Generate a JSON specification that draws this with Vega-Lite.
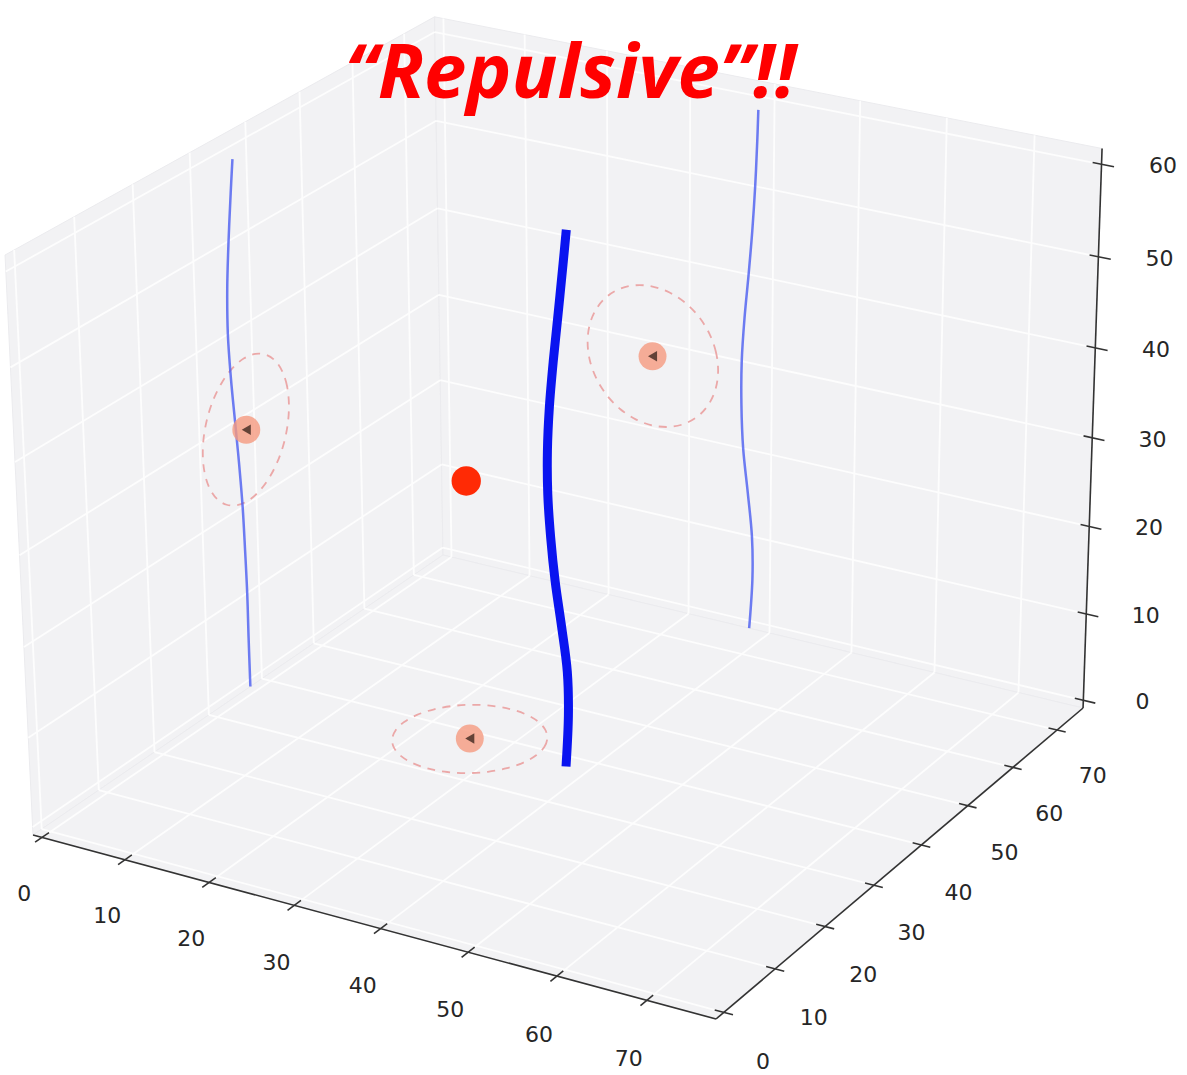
{
  "$schema": "https://vega.github.io/schema/vega-lite/v6.json",
  "width": 1187,
  "height": 1075,
  "autosize": {"type": "none"},
  "padding": 0,
  "background": "white",
  "config": {"view": {"stroke": null}},
  "title": {"text": "“Repulsive”!!", "font": "Open Sans", "fontSize": 76, "fontStyle": "italic", "fontWeight": "bold", "color": "#ff0000", "anchor": "middle", "orient": "top", "dx": -23, "dy": 81, "offset": -93, "baseline": "alphabetic"},
  "data": {"values": [
    {"g":"pane","id":"left","i":0,"x":-1.1,"y":-1.5,"z":-0.9},
    {"g":"pane","id":"left","i":1,"x":-1.1,"y":76,"z":-0.9},
    {"g":"pane","id":"left","i":2,"x":-1.1,"y":76,"z":61.7},
    {"g":"pane","id":"left","i":3,"x":-1.1,"y":-1.5,"z":61.7},
    {"g":"pane","id":"back","i":0,"x":-1.1,"y":76,"z":-0.9},
    {"g":"pane","id":"back","i":1,"x":77.6,"y":76,"z":-0.9},
    {"g":"pane","id":"back","i":2,"x":77.6,"y":76,"z":61.7},
    {"g":"pane","id":"back","i":3,"x":-1.1,"y":76,"z":61.7},
    {"g":"pane","id":"floor","i":0,"x":-1.1,"y":-1.5,"z":-0.9},
    {"g":"pane","id":"floor","i":1,"x":77.6,"y":-1.5,"z":-0.9},
    {"g":"pane","id":"floor","i":2,"x":77.6,"y":76,"z":-0.9},
    {"g":"pane","id":"floor","i":3,"x":-1.1,"y":76,"z":-0.9},

    {"g":"grid","x":0,"y":-1.5,"z":-0.9,"x2":0,"y2":76,"z2":-0.9},
    {"g":"grid","x":10,"y":-1.5,"z":-0.9,"x2":10,"y2":76,"z2":-0.9},
    {"g":"grid","x":20,"y":-1.5,"z":-0.9,"x2":20,"y2":76,"z2":-0.9},
    {"g":"grid","x":30,"y":-1.5,"z":-0.9,"x2":30,"y2":76,"z2":-0.9},
    {"g":"grid","x":40,"y":-1.5,"z":-0.9,"x2":40,"y2":76,"z2":-0.9},
    {"g":"grid","x":50,"y":-1.5,"z":-0.9,"x2":50,"y2":76,"z2":-0.9},
    {"g":"grid","x":60,"y":-1.5,"z":-0.9,"x2":60,"y2":76,"z2":-0.9},
    {"g":"grid","x":70,"y":-1.5,"z":-0.9,"x2":70,"y2":76,"z2":-0.9},
    {"g":"grid","x":-1.1,"y":0,"z":-0.9,"x2":77.6,"y2":0,"z2":-0.9},
    {"g":"grid","x":-1.1,"y":10,"z":-0.9,"x2":77.6,"y2":10,"z2":-0.9},
    {"g":"grid","x":-1.1,"y":20,"z":-0.9,"x2":77.6,"y2":20,"z2":-0.9},
    {"g":"grid","x":-1.1,"y":30,"z":-0.9,"x2":77.6,"y2":30,"z2":-0.9},
    {"g":"grid","x":-1.1,"y":40,"z":-0.9,"x2":77.6,"y2":40,"z2":-0.9},
    {"g":"grid","x":-1.1,"y":50,"z":-0.9,"x2":77.6,"y2":50,"z2":-0.9},
    {"g":"grid","x":-1.1,"y":60,"z":-0.9,"x2":77.6,"y2":60,"z2":-0.9},
    {"g":"grid","x":-1.1,"y":70,"z":-0.9,"x2":77.6,"y2":70,"z2":-0.9},
    {"g":"grid","x":-1.1,"y":0,"z":-0.9,"x2":-1.1,"y2":0,"z2":61.7},
    {"g":"grid","x":-1.1,"y":10,"z":-0.9,"x2":-1.1,"y2":10,"z2":61.7},
    {"g":"grid","x":-1.1,"y":20,"z":-0.9,"x2":-1.1,"y2":20,"z2":61.7},
    {"g":"grid","x":-1.1,"y":30,"z":-0.9,"x2":-1.1,"y2":30,"z2":61.7},
    {"g":"grid","x":-1.1,"y":40,"z":-0.9,"x2":-1.1,"y2":40,"z2":61.7},
    {"g":"grid","x":-1.1,"y":50,"z":-0.9,"x2":-1.1,"y2":50,"z2":61.7},
    {"g":"grid","x":-1.1,"y":60,"z":-0.9,"x2":-1.1,"y2":60,"z2":61.7},
    {"g":"grid","x":-1.1,"y":70,"z":-0.9,"x2":-1.1,"y2":70,"z2":61.7},
    {"g":"grid","x":-1.1,"y":-1.5,"z":0,"x2":-1.1,"y2":76,"z2":0},
    {"g":"grid","x":-1.1,"y":-1.5,"z":10,"x2":-1.1,"y2":76,"z2":10},
    {"g":"grid","x":-1.1,"y":-1.5,"z":20,"x2":-1.1,"y2":76,"z2":20},
    {"g":"grid","x":-1.1,"y":-1.5,"z":30,"x2":-1.1,"y2":76,"z2":30},
    {"g":"grid","x":-1.1,"y":-1.5,"z":40,"x2":-1.1,"y2":76,"z2":40},
    {"g":"grid","x":-1.1,"y":-1.5,"z":50,"x2":-1.1,"y2":76,"z2":50},
    {"g":"grid","x":-1.1,"y":-1.5,"z":60,"x2":-1.1,"y2":76,"z2":60},
    {"g":"grid","x":0,"y":76,"z":-0.9,"x2":0,"y2":76,"z2":61.7},
    {"g":"grid","x":10,"y":76,"z":-0.9,"x2":10,"y2":76,"z2":61.7},
    {"g":"grid","x":20,"y":76,"z":-0.9,"x2":20,"y2":76,"z2":61.7},
    {"g":"grid","x":30,"y":76,"z":-0.9,"x2":30,"y2":76,"z2":61.7},
    {"g":"grid","x":40,"y":76,"z":-0.9,"x2":40,"y2":76,"z2":61.7},
    {"g":"grid","x":50,"y":76,"z":-0.9,"x2":50,"y2":76,"z2":61.7},
    {"g":"grid","x":60,"y":76,"z":-0.9,"x2":60,"y2":76,"z2":61.7},
    {"g":"grid","x":70,"y":76,"z":-0.9,"x2":70,"y2":76,"z2":61.7},
    {"g":"grid","x":-1.1,"y":76,"z":0,"x2":77.6,"y2":76,"z2":0},
    {"g":"grid","x":-1.1,"y":76,"z":10,"x2":77.6,"y2":76,"z2":10},
    {"g":"grid","x":-1.1,"y":76,"z":20,"x2":77.6,"y2":76,"z2":20},
    {"g":"grid","x":-1.1,"y":76,"z":30,"x2":77.6,"y2":76,"z2":30},
    {"g":"grid","x":-1.1,"y":76,"z":40,"x2":77.6,"y2":76,"z2":40},
    {"g":"grid","x":-1.1,"y":76,"z":50,"x2":77.6,"y2":76,"z2":50},
    {"g":"grid","x":-1.1,"y":76,"z":60,"x2":77.6,"y2":76,"z2":60},

    {"g":"axis","x":-1.1,"y":-1.5,"z":-0.9,"x2":77.6,"y2":-1.5,"z2":-0.9},
    {"g":"axis","x":77.6,"y":-1.5,"z":-0.9,"x2":77.6,"y2":76,"z2":-0.9},
    {"g":"axis","x":77.6,"y":76,"z":-0.9,"x2":77.6,"y2":76,"z2":61.7},

    {"g":"tick","x":0,"y":-0.3,"z":-0.9,"x2":0,"y2":-2.7,"z2":-0.9},
    {"g":"tick","x":10,"y":-0.3,"z":-0.9,"x2":10,"y2":-2.7,"z2":-0.9},
    {"g":"tick","x":20,"y":-0.3,"z":-0.9,"x2":20,"y2":-2.7,"z2":-0.9},
    {"g":"tick","x":30,"y":-0.3,"z":-0.9,"x2":30,"y2":-2.7,"z2":-0.9},
    {"g":"tick","x":40,"y":-0.3,"z":-0.9,"x2":40,"y2":-2.7,"z2":-0.9},
    {"g":"tick","x":50,"y":-0.3,"z":-0.9,"x2":50,"y2":-2.7,"z2":-0.9},
    {"g":"tick","x":60,"y":-0.3,"z":-0.9,"x2":60,"y2":-2.7,"z2":-0.9},
    {"g":"tick","x":70,"y":-0.3,"z":-0.9,"x2":70,"y2":-2.7,"z2":-0.9},
    {"g":"tick","x":76.6,"y":0,"z":-0.9,"x2":78.6,"y2":0,"z2":-0.9},
    {"g":"tick","x":76.6,"y":10,"z":-0.9,"x2":78.6,"y2":10,"z2":-0.9},
    {"g":"tick","x":76.6,"y":20,"z":-0.9,"x2":78.6,"y2":20,"z2":-0.9},
    {"g":"tick","x":76.6,"y":30,"z":-0.9,"x2":78.6,"y2":30,"z2":-0.9},
    {"g":"tick","x":76.6,"y":40,"z":-0.9,"x2":78.6,"y2":40,"z2":-0.9},
    {"g":"tick","x":76.6,"y":50,"z":-0.9,"x2":78.6,"y2":50,"z2":-0.9},
    {"g":"tick","x":76.6,"y":60,"z":-0.9,"x2":78.6,"y2":60,"z2":-0.9},
    {"g":"tick","x":76.6,"y":70,"z":-0.9,"x2":78.6,"y2":70,"z2":-0.9},
    {"g":"tick","x":76.6,"y":76,"z":0,"x2":79.0,"y2":76,"z2":0},
    {"g":"tick","x":76.6,"y":76,"z":10,"x2":79.0,"y2":76,"z2":10},
    {"g":"tick","x":76.6,"y":76,"z":20,"x2":79.0,"y2":76,"z2":20},
    {"g":"tick","x":76.6,"y":76,"z":30,"x2":79.0,"y2":76,"z2":30},
    {"g":"tick","x":76.6,"y":76,"z":40,"x2":79.0,"y2":76,"z2":40},
    {"g":"tick","x":76.6,"y":76,"z":50,"x2":79.0,"y2":76,"z2":50},
    {"g":"tick","x":76.6,"y":76,"z":60,"x2":79.0,"y2":76,"z2":60},

    {"g":"lab","label":"0","x":0,"y":-4.9,"z":-5.7},
    {"g":"lab","label":"10","x":10,"y":-4.9,"z":-5.7},
    {"g":"lab","label":"20","x":20,"y":-4.9,"z":-5.7},
    {"g":"lab","label":"30","x":30,"y":-4.9,"z":-5.7},
    {"g":"lab","label":"40","x":40,"y":-4.9,"z":-5.7},
    {"g":"lab","label":"50","x":50,"y":-4.9,"z":-5.7},
    {"g":"lab","label":"60","x":60,"y":-4.9,"z":-5.7},
    {"g":"lab","label":"70","x":70,"y":-4.9,"z":-5.7},
    {"g":"lab","label":"0","x":81.9,"y":0,"z":-5.2},
    {"g":"lab","label":"10","x":81.9,"y":10,"z":-5.2},
    {"g":"lab","label":"20","x":81.9,"y":20,"z":-5.2},
    {"g":"lab","label":"30","x":81.9,"y":30,"z":-5.2},
    {"g":"lab","label":"40","x":81.9,"y":40,"z":-5.2},
    {"g":"lab","label":"50","x":81.9,"y":50,"z":-5.2},
    {"g":"lab","label":"60","x":81.9,"y":60,"z":-5.2},
    {"g":"lab","label":"70","x":81.9,"y":70,"z":-5.2},
    {"g":"lab","label":"0","x":83.2,"y":78.6,"z":0},
    {"g":"lab","label":"10","x":83.2,"y":78.6,"z":10},
    {"g":"lab","label":"20","x":83.2,"y":78.6,"z":20},
    {"g":"lab","label":"30","x":83.2,"y":78.6,"z":30},
    {"g":"lab","label":"40","x":83.2,"y":78.6,"z":40},
    {"g":"lab","label":"50","x":83.2,"y":78.6,"z":50},
    {"g":"lab","label":"60","x":83.2,"y":78.6,"z":60},

    {"g":"ring","id":"F","i":0,"x":33.5,"y":38.5,"z":-0.9},
    {"g":"ring","id":"F","i":1,"x":33.23,"y":40.57,"z":-0.9},
    {"g":"ring","id":"F","i":2,"x":32.43,"y":42.5,"z":-0.9},
    {"g":"ring","id":"F","i":3,"x":31.16,"y":44.16,"z":-0.9},
    {"g":"ring","id":"F","i":4,"x":29.5,"y":45.43,"z":-0.9},
    {"g":"ring","id":"F","i":5,"x":27.57,"y":46.23,"z":-0.9},
    {"g":"ring","id":"F","i":6,"x":25.5,"y":46.5,"z":-0.9},
    {"g":"ring","id":"F","i":7,"x":23.43,"y":46.23,"z":-0.9},
    {"g":"ring","id":"F","i":8,"x":21.5,"y":45.43,"z":-0.9},
    {"g":"ring","id":"F","i":9,"x":19.84,"y":44.16,"z":-0.9},
    {"g":"ring","id":"F","i":10,"x":18.57,"y":42.5,"z":-0.9},
    {"g":"ring","id":"F","i":11,"x":17.77,"y":40.57,"z":-0.9},
    {"g":"ring","id":"F","i":12,"x":17.5,"y":38.5,"z":-0.9},
    {"g":"ring","id":"F","i":13,"x":17.77,"y":36.43,"z":-0.9},
    {"g":"ring","id":"F","i":14,"x":18.57,"y":34.5,"z":-0.9},
    {"g":"ring","id":"F","i":15,"x":19.84,"y":32.84,"z":-0.9},
    {"g":"ring","id":"F","i":16,"x":21.5,"y":31.57,"z":-0.9},
    {"g":"ring","id":"F","i":17,"x":23.43,"y":30.77,"z":-0.9},
    {"g":"ring","id":"F","i":18,"x":25.5,"y":30.5,"z":-0.9},
    {"g":"ring","id":"F","i":19,"x":27.57,"y":30.77,"z":-0.9},
    {"g":"ring","id":"F","i":20,"x":29.5,"y":31.57,"z":-0.9},
    {"g":"ring","id":"F","i":21,"x":31.16,"y":32.84,"z":-0.9},
    {"g":"ring","id":"F","i":22,"x":32.43,"y":34.5,"z":-0.9},
    {"g":"ring","id":"F","i":23,"x":33.23,"y":36.43,"z":-0.9},

    {"g":"ring","id":"L","i":0,"x":-1.1,"y":46.5,"z":28.3},
    {"g":"ring","id":"L","i":1,"x":-1.1,"y":46.23,"z":30.37},
    {"g":"ring","id":"L","i":2,"x":-1.1,"y":45.43,"z":32.3},
    {"g":"ring","id":"L","i":3,"x":-1.1,"y":44.16,"z":33.96},
    {"g":"ring","id":"L","i":4,"x":-1.1,"y":42.5,"z":35.23},
    {"g":"ring","id":"L","i":5,"x":-1.1,"y":40.57,"z":36.03},
    {"g":"ring","id":"L","i":6,"x":-1.1,"y":38.5,"z":36.3},
    {"g":"ring","id":"L","i":7,"x":-1.1,"y":36.43,"z":36.03},
    {"g":"ring","id":"L","i":8,"x":-1.1,"y":34.5,"z":35.23},
    {"g":"ring","id":"L","i":9,"x":-1.1,"y":32.84,"z":33.96},
    {"g":"ring","id":"L","i":10,"x":-1.1,"y":31.57,"z":32.3},
    {"g":"ring","id":"L","i":11,"x":-1.1,"y":30.77,"z":30.37},
    {"g":"ring","id":"L","i":12,"x":-1.1,"y":30.5,"z":28.3},
    {"g":"ring","id":"L","i":13,"x":-1.1,"y":30.77,"z":26.23},
    {"g":"ring","id":"L","i":14,"x":-1.1,"y":31.57,"z":24.3},
    {"g":"ring","id":"L","i":15,"x":-1.1,"y":32.84,"z":22.64},
    {"g":"ring","id":"L","i":16,"x":-1.1,"y":34.5,"z":21.37},
    {"g":"ring","id":"L","i":17,"x":-1.1,"y":36.43,"z":20.57},
    {"g":"ring","id":"L","i":18,"x":-1.1,"y":38.5,"z":20.3},
    {"g":"ring","id":"L","i":19,"x":-1.1,"y":40.57,"z":20.57},
    {"g":"ring","id":"L","i":20,"x":-1.1,"y":42.5,"z":21.37},
    {"g":"ring","id":"L","i":21,"x":-1.1,"y":44.16,"z":22.64},
    {"g":"ring","id":"L","i":22,"x":-1.1,"y":45.43,"z":24.3},
    {"g":"ring","id":"L","i":23,"x":-1.1,"y":46.23,"z":26.23},

    {"g":"ring","id":"B","i":0,"x":33.5,"y":76,"z":28.3},
    {"g":"ring","id":"B","i":1,"x":33.23,"y":76,"z":30.37},
    {"g":"ring","id":"B","i":2,"x":32.43,"y":76,"z":32.3},
    {"g":"ring","id":"B","i":3,"x":31.16,"y":76,"z":33.96},
    {"g":"ring","id":"B","i":4,"x":29.5,"y":76,"z":35.23},
    {"g":"ring","id":"B","i":5,"x":27.57,"y":76,"z":36.03},
    {"g":"ring","id":"B","i":6,"x":25.5,"y":76,"z":36.3},
    {"g":"ring","id":"B","i":7,"x":23.43,"y":76,"z":36.03},
    {"g":"ring","id":"B","i":8,"x":21.5,"y":76,"z":35.23},
    {"g":"ring","id":"B","i":9,"x":19.84,"y":76,"z":33.96},
    {"g":"ring","id":"B","i":10,"x":18.57,"y":76,"z":32.3},
    {"g":"ring","id":"B","i":11,"x":17.77,"y":76,"z":30.37},
    {"g":"ring","id":"B","i":12,"x":17.5,"y":76,"z":28.3},
    {"g":"ring","id":"B","i":13,"x":17.77,"y":76,"z":26.23},
    {"g":"ring","id":"B","i":14,"x":18.57,"y":76,"z":24.3},
    {"g":"ring","id":"B","i":15,"x":19.84,"y":76,"z":22.64},
    {"g":"ring","id":"B","i":16,"x":21.5,"y":76,"z":21.37},
    {"g":"ring","id":"B","i":17,"x":23.43,"y":76,"z":20.57},
    {"g":"ring","id":"B","i":18,"x":25.5,"y":76,"z":20.3},
    {"g":"ring","id":"B","i":19,"x":27.57,"y":76,"z":20.57},
    {"g":"ring","id":"B","i":20,"x":29.5,"y":76,"z":21.37},
    {"g":"ring","id":"B","i":21,"x":31.16,"y":76,"z":22.64},
    {"g":"ring","id":"B","i":22,"x":32.43,"y":76,"z":24.3},
    {"g":"ring","id":"B","i":23,"x":33.23,"y":76,"z":26.23},

    {"g":"traj","i":0,"x":37.5,"y":37.8,"z":-0.9},
    {"g":"traj","i":1,"x":37.85,"y":37.75,"z":5},
    {"g":"traj","i":2,"x":37.75,"y":37.75,"z":10},
    {"g":"traj","i":3,"x":37.2,"y":37.6,"z":15},
    {"g":"traj","i":4,"x":36.6,"y":37.4,"z":20},
    {"g":"traj","i":5,"x":36.35,"y":37.0,"z":25},
    {"g":"traj","i":6,"x":36.35,"y":36.5,"z":30},
    {"g":"traj","i":7,"x":36.65,"y":36.0,"z":35},
    {"g":"traj","i":8,"x":37.1,"y":35.7,"z":40},
    {"g":"traj","i":9,"x":37.5,"y":35.85,"z":45},
    {"g":"traj","i":10,"x":37.8,"y":36.35,"z":50},
    {"g":"traj","i":11,"x":38.0,"y":37.0,"z":55},
    {"g":"traj","i":12,"x":38.1,"y":37.5,"z":58.5},

    {"g":"agent","x":25.5,"y":38.5,"z":28.3}
  ]},
  "transform": [
    {"calculate": "(datum.x+1.1)/78.7", "as": "u"},
    {"calculate": "(datum.y+1.5)/77.5", "as": "v"},
    {"calculate": "(datum.z+0.9)/62.6", "as": "w"},
    {"calculate": "1-0.052*datum.u+0.0969*datum.v-0.0436*datum.w", "as": "den"},
    {"calculate": "(33+645.8*datum.u+452.9*datum.v-28.2*datum.w)/datum.den", "as": "sx"},
    {"calculate": "(835+131*datum.u-226.2*datum.v-591.1*datum.w)/datum.den", "as": "sy"},
    {"calculate": "(datum.x2+1.1)/78.7", "as": "u2"},
    {"calculate": "(datum.y2+1.5)/77.5", "as": "v2"},
    {"calculate": "(datum.z2+0.9)/62.6", "as": "w2"},
    {"calculate": "1-0.052*datum.u2+0.0969*datum.v2-0.0436*datum.w2", "as": "den2"},
    {"calculate": "(33+645.8*datum.u2+452.9*datum.v2-28.2*datum.w2)/datum.den2", "as": "sx2"},
    {"calculate": "(835+131*datum.u2-226.2*datum.v2-591.1*datum.w2)/datum.den2", "as": "sy2"},
    {"calculate": "(33+452.9*datum.v-28.2*datum.w)/(1+0.0969*datum.v-0.0436*datum.w)", "as": "sxL"},
    {"calculate": "(835-226.2*datum.v-591.1*datum.w)/(1+0.0969*datum.v-0.0436*datum.w)", "as": "syL"},
    {"calculate": "(485.9+645.8*datum.u-28.2*datum.w)/(1.0969-0.052*datum.u-0.0436*datum.w)", "as": "sxB"},
    {"calculate": "(608.8+131*datum.u-591.1*datum.w)/(1.0969-0.052*datum.u-0.0436*datum.w)", "as": "syB"},
    {"calculate": "(33+645.8*datum.u+452.9*datum.v)/(1-0.052*datum.u+0.0969*datum.v)", "as": "sxF"},
    {"calculate": "(835+131*datum.u-226.2*datum.v)/(1-0.052*datum.u+0.0969*datum.v)", "as": "syF"}
  ],
  "layer": [
    {
      "transform": [{"filter": "datum.g == 'pane'"}],
      "mark": {"type": "line", "interpolate": "linear-closed", "fill": "#f2f2f4", "stroke": "#ebebee", "strokeWidth": 1},
      "encoding": {
        "x": {"field": "sx", "type": "quantitative", "scale": {"domain": [0, 1187], "nice": false, "zero": false}, "axis": null},
        "y": {"field": "sy", "type": "quantitative", "scale": {"domain": [0, 1075], "nice": false, "zero": false, "reverse": true}, "axis": null},
        "detail": {"field": "id"},
        "order": {"field": "i", "type": "quantitative"}
      }
    },
    {
      "transform": [{"filter": "datum.g == 'grid'"}],
      "mark": {"type": "rule", "color": "#fdfdfd", "strokeWidth": 1.8},
      "encoding": {
        "x": {"field": "sx", "type": "quantitative", "axis": null},
        "y": {"field": "sy", "type": "quantitative", "axis": null},
        "x2": {"field": "sx2"},
        "y2": {"field": "sy2"}
      }
    },
    {
      "transform": [{"filter": "datum.g == 'axis' || datum.g == 'tick'"}],
      "mark": {"type": "rule", "color": "#333333", "strokeWidth": 1.6},
      "encoding": {
        "x": {"field": "sx", "type": "quantitative", "axis": null},
        "y": {"field": "sy", "type": "quantitative", "axis": null},
        "x2": {"field": "sx2"},
        "y2": {"field": "sy2"}
      }
    },
    {
      "transform": [{"filter": "datum.g == 'lab'"}],
      "mark": {"type": "text", "font": "DejaVu Sans", "fontSize": 22, "color": "#262626", "align": "center", "baseline": "middle"},
      "encoding": {
        "x": {"field": "sx", "type": "quantitative", "axis": null},
        "y": {"field": "sy", "type": "quantitative", "axis": null},
        "text": {"field": "label"}
      }
    },
    {
      "transform": [{"filter": "datum.g == 'ring'"}],
      "mark": {"type": "line", "interpolate": "cardinal-closed", "color": "#eba8a8", "strokeWidth": 1.8, "strokeDash": [8, 7]},
      "encoding": {
        "x": {"field": "sx", "type": "quantitative", "axis": null},
        "y": {"field": "sy", "type": "quantitative", "axis": null},
        "detail": {"field": "id"},
        "order": {"field": "i", "type": "quantitative"}
      }
    },
    {
      "transform": [{"filter": "datum.g == 'traj'"}],
      "mark": {"type": "line", "interpolate": "cardinal", "color": "#4a5cf0", "strokeWidth": 2.5, "opacity": 0.8},
      "encoding": {
        "x": {"field": "sxL", "type": "quantitative", "axis": null},
        "y": {"field": "syL", "type": "quantitative", "axis": null},
        "order": {"field": "i", "type": "quantitative"}
      }
    },
    {
      "transform": [{"filter": "datum.g == 'traj'"}],
      "mark": {"type": "line", "interpolate": "cardinal", "color": "#4a5cf0", "strokeWidth": 2.5, "opacity": 0.8},
      "encoding": {
        "x": {"field": "sxB", "type": "quantitative", "axis": null},
        "y": {"field": "syB", "type": "quantitative", "axis": null},
        "order": {"field": "i", "type": "quantitative"}
      }
    },
    {
      "transform": [{"filter": "datum.g == 'agent'"}],
      "mark": {"type": "point", "shape": "circle", "filled": true, "color": "#f59a80", "opacity": 0.8, "size": 780},
      "encoding": {
        "x": {"field": "sxL", "type": "quantitative", "axis": null},
        "y": {"field": "syL", "type": "quantitative", "axis": null}
      }
    },
    {
      "transform": [{"filter": "datum.g == 'agent'"}],
      "mark": {"type": "point", "shape": "circle", "filled": true, "color": "#f59a80", "opacity": 0.8, "size": 780},
      "encoding": {
        "x": {"field": "sxB", "type": "quantitative", "axis": null},
        "y": {"field": "syB", "type": "quantitative", "axis": null}
      }
    },
    {
      "transform": [{"filter": "datum.g == 'agent'"}],
      "mark": {"type": "point", "shape": "circle", "filled": true, "color": "#f59a80", "opacity": 0.8, "size": 780},
      "encoding": {
        "x": {"field": "sxF", "type": "quantitative", "axis": null},
        "y": {"field": "syF", "type": "quantitative", "axis": null}
      }
    },
    {
      "transform": [{"filter": "datum.g == 'agent'"}],
      "mark": {"type": "point", "shape": "triangle-left", "filled": true, "color": "#4a2f26", "opacity": 0.85, "size": 110},
      "encoding": {
        "x": {"field": "sxL", "type": "quantitative", "axis": null},
        "y": {"field": "syL", "type": "quantitative", "axis": null}
      }
    },
    {
      "transform": [{"filter": "datum.g == 'agent'"}],
      "mark": {"type": "point", "shape": "triangle-left", "filled": true, "color": "#4a2f26", "opacity": 0.85, "size": 110},
      "encoding": {
        "x": {"field": "sxB", "type": "quantitative", "axis": null},
        "y": {"field": "syB", "type": "quantitative", "axis": null}
      }
    },
    {
      "transform": [{"filter": "datum.g == 'agent'"}],
      "mark": {"type": "point", "shape": "triangle-left", "filled": true, "color": "#4a2f26", "opacity": 0.85, "size": 110},
      "encoding": {
        "x": {"field": "sxF", "type": "quantitative", "axis": null},
        "y": {"field": "syF", "type": "quantitative", "axis": null}
      }
    },
    {
      "transform": [{"filter": "datum.g == 'traj'"}],
      "mark": {"type": "line", "interpolate": "cardinal", "color": "#0a14f0", "strokeWidth": 9, "strokeCap": "butt"},
      "encoding": {
        "x": {"field": "sx", "type": "quantitative", "axis": null},
        "y": {"field": "sy", "type": "quantitative", "axis": null},
        "order": {"field": "i", "type": "quantitative"}
      }
    },
    {
      "transform": [{"filter": "datum.g == 'agent'"}],
      "mark": {"type": "point", "shape": "circle", "filled": true, "color": "#ff2a05", "opacity": 1, "size": 860},
      "encoding": {
        "x": {"field": "sx", "type": "quantitative", "axis": null},
        "y": {"field": "sy", "type": "quantitative", "axis": null}
      }
    }
  ]
}
